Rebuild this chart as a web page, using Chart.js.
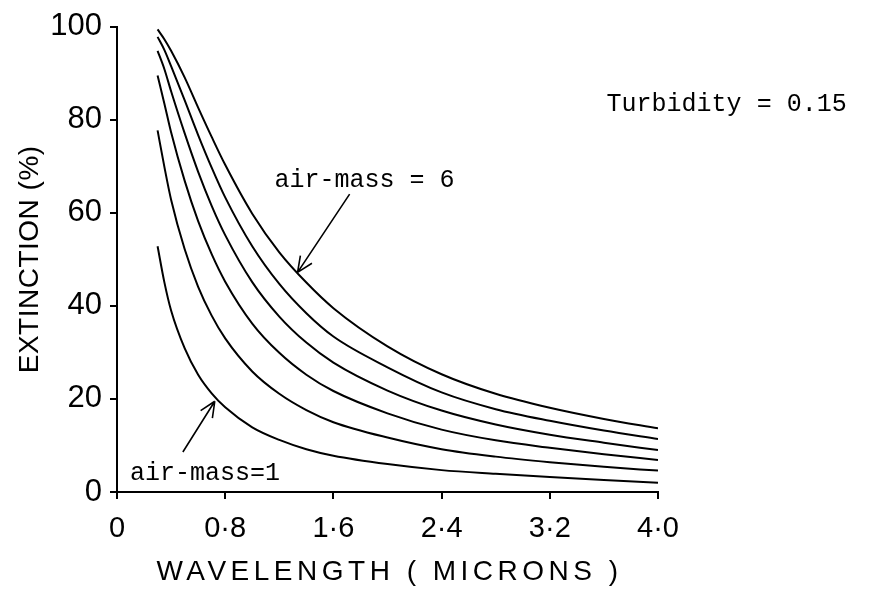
<!DOCTYPE html>
<html>
<head>
<meta charset="utf-8">
<title>Extinction vs wavelength</title>
<script src="https://cdn.jsdelivr.net/npm/chart.js@4.4.1/dist/chart.umd.min.js"></script>
<style>
  html, body { margin: 0; padding: 0; background: #fff; }
  #wrap { width: 873px; height: 595px; }
</style>
</head>
<body>
<div id="wrap"><canvas id="extChart"></canvas></div>
<script>
const wavelength = [0.3, 0.35, 0.4, 0.5, 0.6, 0.7, 0.8, 1.0, 1.2, 1.4, 1.6, 2.0, 2.4, 2.8, 3.2, 3.6, 4.0];

// extinction (%) for air-mass 1 .. 6
const airMass1 = [52.8, 45.1, 39.0, 30.9, 25.2, 21.2, 18.2, 13.9, 11.2, 9.2, 7.8, 6.0, 4.7, 3.9, 3.2, 2.6, 2.0];
const airMass2 = [77.7, 69.9, 62.8, 52.2, 44.1, 37.9, 33.0, 25.9, 21.1, 17.6, 15.0, 11.7, 9.2, 7.6, 6.4, 5.4, 4.6];
const airMass3 = [89.5, 83.5, 77.3, 66.9, 58.2, 51.1, 45.2, 36.2, 29.9, 25.2, 21.7, 16.9, 13.4, 11.1, 9.5, 8.1, 6.9];
const airMass4 = [94.8, 90.9, 86.1, 77.1, 68.8, 61.5, 55.2, 45.1, 37.7, 32.1, 27.8, 21.8, 17.5, 14.5, 12.3, 10.6, 9.0];
const airMass5 = [97.8, 95.0, 91.5, 84.2, 76.7, 69.7, 63.3, 52.8, 44.7, 38.4, 33.4, 26.8, 21.4, 17.8, 15.3, 13.2, 11.4];
const airMass6 = [99.4, 97.3, 94.8, 89.1, 82.6, 76.3, 70.3, 59.8, 51.5, 45.0, 39.5, 31.3, 25.3, 21.1, 18.1, 15.7, 13.7];

const seriesNames = ['air-mass 1', 'air-mass 2', 'air-mass 3', 'air-mass 4', 'air-mass 5', 'air-mass 6'];
const allSeries = [airMass1, airMass2, airMass3, airMass4, airMass5, airMass6];

// axis ticks
const xTicks = [0, 0.8, 1.6, 2.4, 3.2, 4.0];
const yTicks = [0, 20, 40, 60, 80, 100];

// text notes and arrows, placed in data units
const textNotes = [
    { text: 'Turbidity = 0.15', x: 3.62, y: 83.2 },
    { text: 'air-mass = 6', x: 1.165, y: 67.0 },
    { text: 'air-mass=1', x: 0.096, y: 4.1 }
];
const arrowNotes = [
    { from: [1.72, 64.0], to: [1.335, 47.2] },
    { from: [0.487, 8.6], to: [0.723, 19.5] }
];

const datasets = allSeries.map((vals, i) => ({
    label: seriesNames[i],
    data: wavelength.map((w, j) => ({ x: w, y: vals[j] })),
    borderColor: '#000',
    borderWidth: 2,
    pointRadius: 0,
    fill: false,
    cubicInterpolationMode: 'monotone'
}));

const fmtTick = (v) => v === 0 ? '0' : v.toFixed(1).replace('.', '\u00b7');

// axis titles (drawn by hand for the wide lettering) plus notes and arrows
const notesPlugin = {
    id: 'notes',
    afterDraw(chart) {
        const { ctx, chartArea, scales: { x, y } } = chart;
        ctx.save();
        ctx.fillStyle = '#000';

        ctx.font = '28px "Liberation Sans", Arial, sans-serif';
        ctx.textAlign = 'center';
        ctx.textBaseline = 'middle';
        ctx.letterSpacing = '4.5px';
        ctx.fillText('WAVELENGTH ( MICRONS )', (chartArea.left + chartArea.right) / 2 + 2, chart.height - 23);
        ctx.letterSpacing = '0.5px';
        ctx.save();
        ctx.translate(30, (chartArea.top + chartArea.bottom) / 2);
        ctx.rotate(-Math.PI / 2);
        ctx.fillText('EXTINCTION (%)', 0, 0);
        ctx.restore();
        ctx.letterSpacing = '0px';

        ctx.font = '25px "Liberation Mono", monospace';
        ctx.textAlign = 'left';
        textNotes.forEach(n => {
            ctx.fillText(n.text, x.getPixelForValue(n.x), y.getPixelForValue(n.y));
        });

        ctx.strokeStyle = '#000';
        ctx.lineWidth = 1.6;
        arrowNotes.forEach(a => {
            const x0 = x.getPixelForValue(a.from[0]), y0 = y.getPixelForValue(a.from[1]);
            const x1 = x.getPixelForValue(a.to[0]), y1 = y.getPixelForValue(a.to[1]);
            const ang = Math.atan2(y1 - y0, x1 - x0);
            ctx.beginPath();
            ctx.moveTo(x0, y0);
            ctx.lineTo(x1, y1);
            [-0.42, 0.42].forEach(d => {
                ctx.moveTo(x1, y1);
                ctx.lineTo(x1 - 17 * Math.cos(ang + d), y1 - 17 * Math.sin(ang + d));
            });
            ctx.stroke();
        });
        ctx.restore();
    }
};

const xFont = { family: '"Liberation Sans", Arial, sans-serif', size: 29 };
const yFont = { family: '"Liberation Sans", Arial, sans-serif', size: 31 };

new Chart(document.getElementById('extChart'), {
    type: 'line',
    data: { datasets },
    options: {
        responsive: true,
        maintainAspectRatio: false,
        animation: false,
        layout: { padding: { top: 23, right: 215, left: 0, bottom: 0 } },
        plugins: {
            legend: { display: false },
            tooltip: { enabled: false }
        },
        scales: {
            x: {
                type: 'linear',
                min: 0,
                max: 4,
                afterBuildTicks: (s) => { s.ticks = xTicks.map(v => ({ value: v })); },
                afterFit: (s) => { s.height = 103; },
                border: { display: true, color: '#000', width: 2 },
                grid: { drawOnChartArea: false, drawTicks: true, tickLength: 7, color: '#000', lineWidth: 2 },
                ticks: { color: '#000', font: xFont, padding: 13, maxRotation: 0, callback: fmtTick }
            },
            y: {
                min: 0,
                max: 100,
                afterBuildTicks: (s) => { s.ticks = yTicks.map(v => ({ value: v })); },
                afterFit: (s) => { s.width = 117; },
                border: { display: true, color: '#000', width: 2 },
                grid: { drawOnChartArea: false, drawTicks: true, tickLength: 7, color: '#000', lineWidth: 2 },
                ticks: { color: '#000', font: yFont, padding: 8 }
            }
        }
    },
    plugins: [notesPlugin]
});
</script>
</body>
</html>
